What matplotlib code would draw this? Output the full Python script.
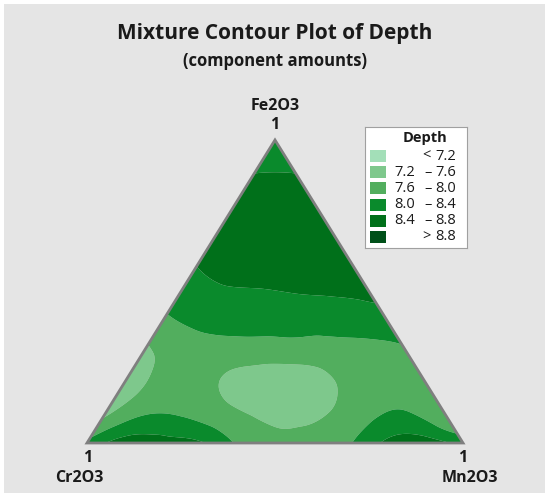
import matplotlib
matplotlib.use('Agg')
import matplotlib.pyplot as plt
import matplotlib.tri as mtri
from matplotlib.patches import Rectangle, Polygon

plt.rcParams['font.family'] = ['Open Sans', 'DejaVu Sans']

# lattice levels of the mixture (component amounts)
fe2o3_levels = [0.0, 0.1, 0.2, 0.3, 0.4, 0.5, 0.6, 0.7, 0.8, 0.9, 1.0]
mn2o3_levels = [0.0, 0.1, 0.2, 0.3, 0.4, 0.5, 0.6, 0.7, 0.8, 0.9, 1.0]

# depth, one row per Fe2O3 level, Mn2O3 going 0 -> 1-Fe2O3
depth_rows = [
    [8.1, 8.6, 8.55, 8.45, 7.95, 7.7, 7.8, 7.98, 8.5, 8.6, 8.3],
    [7.5, 7.95, 7.95, 7.75, 7.55, 7.45, 7.62, 7.9, 8.02, 7.6],
    [7.3, 7.72, 7.7, 7.5, 7.35, 7.4, 7.72, 7.85, 7.9],
    [7.52, 7.75, 7.8, 7.8, 7.82, 7.85, 7.9, 7.97],
    [7.9, 8.1, 8.15, 8.12, 8.12, 8.15, 8.2],
    [8.2, 8.35, 8.37, 8.42, 8.45, 8.5],
    [8.45, 8.6, 8.65, 8.65, 8.6],
    [8.65, 8.7, 8.7, 8.65],
    [8.6, 8.65, 8.6],
    [8.37, 8.37],
    [8.2],
]

depth_breaks = [7.2, 7.6, 8.0, 8.4, 8.8]
band_colours = ['#a3dfb8', '#7ec88c', '#52ae5e', '#0a8a2c', '#00701a', '#005019']
band_lows = ['', '7.2', '7.6', '8.0', '8.4', '']
band_highs = ['7.2', '7.6', '8.0', '8.4', '8.8', '8.8']
band_marks = ['<', '–', '–', '–', '–', '>']

W, H = 550, 499
fig = plt.figure(figsize=(W / 100, H / 100), dpi=100, facecolor='white')
fig.patches.append(Rectangle((4 / W, 1 - 493 / H), 541 / W, 489 / H,
                             transform=fig.transFigure, facecolor='#e5e5e5',
                             edgecolor='none', zorder=-10))

# triangle axes: Cr2O3 at (0,0), Mn2O3 at (1,0), Fe2O3 at (0.5,1)
ax = fig.add_axes([87 / W, 1 - 443 / H, 376 / W, 303 / H])
ax.set_facecolor('none')

xs, ys, zs = [], [], []
for i, row in enumerate(depth_rows):
    c = fe2o3_levels[i]
    for j, d in enumerate(row):
        b = mn2o3_levels[j]
        xs.append(b + c / 2)
        ys.append(c)
        zs.append(d)

tri = mtri.Triangulation(xs, ys)
refiner = mtri.UniformTriRefiner(tri)
tri_f, z_f = refiner.refine_field(zs, subdiv=4)
ax.tricontourf(tri_f, z_f, levels=[0] + depth_breaks + [20], colors=band_colours,
               antialiased=True)

ax.add_patch(Polygon([(0, 0), (1, 0), (0.5, 1)], closed=True, fill=False,
                     edgecolor='#7f7f7f', linewidth=2, clip_on=False, zorder=5))
ax.set_xlim(0, 1)
ax.set_ylim(0, 1)
ax.axis('off')

# titles
fig.text(0.5, 1 - 39.5 / H, 'Mixture Contour Plot of Depth', ha='center', va='baseline',
         fontsize=15, fontweight='bold', color='#1a1a1a')
fig.text(0.5, 1 - 66 / H, '(component amounts)', ha='center', va='baseline',
         fontsize=12, fontweight='bold', color='#1a1a1a')

# vertex labels
lab = dict(ha='center', va='baseline', fontsize=11.5, fontweight='bold', color='#1a1a1a')
fig.text(275 / W, 1 - 110.5 / H, 'Fe2O3', **lab)
fig.text(275 / W, 1 - 129 / H, '1', **lab)
fig.text(87.5 / W, 1 - 462 / H, '1', **lab)
fig.text(79 / W, 1 - 482 / H, 'Cr2O3', **lab)
fig.text(463 / W, 1 - 462 / H, '1', **lab)
fig.text(470 / W, 1 - 482 / H, 'Mn2O3', **lab)

# legend box
lg = fig.add_axes([365 / W, 1 - 248 / H, 102 / W, 121 / H])
lg.set_xlim(0, 102)
lg.set_ylim(121, 0)
lg.set_facecolor('white')
for s in lg.spines.values():
    s.set_edgecolor('#a0a0a0')
    s.set_linewidth(0.8)
lg.set_xticks([])
lg.set_yticks([])
lg.text(60, 11, 'Depth', ha='center', va='center', fontsize=10.5, fontweight='bold',
        color='#1a1a1a')
for k in range(len(band_colours)):
    yc = 29 + 16.2 * k
    lg.add_patch(Rectangle((5, yc - 6), 16, 12, facecolor=band_colours[k], edgecolor='none'))
    lg.text(50, yc, band_lows[k], ha='right', va='center', fontsize=10.5, color='#1a1a1a')
    lg.text(63.5 if band_marks[k] == '–' else 61, yc, band_marks[k], ha='center',
            va='center', fontsize=10.5, color='#1a1a1a')
    lg.text(91, yc, band_highs[k], ha='right', va='center', fontsize=10.5, color='#1a1a1a')

fig.savefig('out.png', dpi=100, facecolor='white')
